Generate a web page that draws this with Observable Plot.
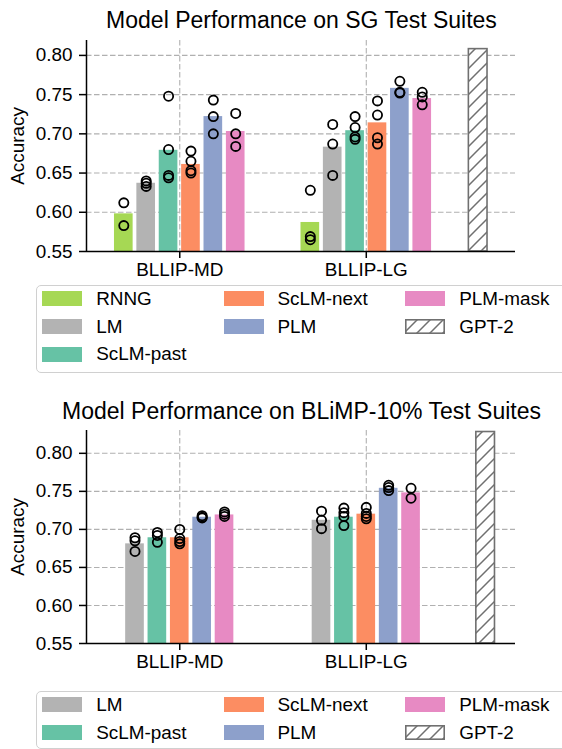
<!DOCTYPE html>
<html>
<head>
<meta charset="utf-8">
<script src="https://cdn.jsdelivr.net/npm/d3@7"></script>
<script src="https://cdn.jsdelivr.net/npm/@observablehq/plot@0.6"></script>
<style>
  html, body { margin: 0; padding: 0; background: #fff; }
  body { width: 562px; height: 749px; position: relative; overflow: hidden;
         font-family: "Liberation Sans", Arial, Helvetica, sans-serif; color: #000; }
  .title { position: absolute; left: 0; width: 603px; text-align: center;
           font-size: 23px; line-height: 23px; white-space: nowrap; }
  .chart { position: absolute; left: 0; }
  .legend { position: absolute; left: 36px; width: 540px; box-sizing: border-box;
            border: 1.5px solid #d0d0d0; border-radius: 5px; background: #fff; }
  .sw { position: absolute; width: 40px; height: 15px; }
  .lt { position: absolute; font-size: 18.9px; line-height: 18.9px; white-space: nowrap; }
</style>
</head>
<body>
<svg width="0" height="0" style="position:absolute">
  <defs>
    <pattern id="hatch" patternUnits="userSpaceOnUse" width="13" height="13">
      <rect width="13" height="13" fill="#fff"></rect>
      <path d="M-3,3 L3,-3 M0,13 L13,0 M10,16 L16,10" stroke="#707070" stroke-width="1.5"></path>
    </pattern>
  </defs>
</svg>
<div class="title" style="top:8.5px">Model Performance on SG Test Suites</div>
<div class="chart" id="c1" style="top:30px"></div>
<div class="legend" id="l1" style="top:285px;height:88px"></div>
<div class="title" style="top:400px">Model Performance on BLiMP-10% Test Suites</div>
<div class="chart" id="c2" style="top:420px"></div>
<div class="legend" id="l2" style="top:691px;height:58px"></div>
<script>
// ---------- data ----------
const groups = ["BLLIP-MD", "BLLIP-LG"];
const yTicks = [0.55, 0.60, 0.65, 0.70, 0.75, 0.80];

const sgModels = ["RNNG", "LM", "ScLM-past", "ScLM-next", "PLM", "PLM-mask"];
const sgMeanMD = [0.598, 0.637, 0.679, 0.661, 0.722, 0.703];
const sgMeanLG = [0.587, 0.683, 0.704, 0.714, 0.758, 0.745];
const sgSeedsMD = [
  [0.612, 0.583],
  [0.640, 0.637, 0.633],
  [0.748, 0.680, 0.647, 0.644],
  [0.678, 0.665, 0.653, 0.650],
  [0.743, 0.722, 0.700],
  [0.726, 0.700, 0.684]
];
const sgSeedsLG = [
  [0.628, 0.569, 0.565],
  [0.712, 0.687, 0.647],
  [0.722, 0.708, 0.696, 0.693],
  [0.742, 0.724, 0.695, 0.687],
  [0.767, 0.753, 0.752],
  [0.753, 0.747, 0.737]
];
const sgGPT2 = 0.808;

const blModels = ["LM", "ScLM-past", "ScLM-next", "PLM", "PLM-mask"];
const blMeanMD = [0.681, 0.689, 0.689, 0.716, 0.719];
const blMeanLG = [0.712, 0.716, 0.720, 0.754, 0.748];
const blSeedsMD = [
  [0.689, 0.685, 0.671],
  [0.696, 0.692, 0.683],
  [0.700, 0.688, 0.684, 0.681],
  [0.718, 0.716, 0.715],
  [0.723, 0.720, 0.717]
];
const blSeedsLG = [
  [0.724, 0.712, 0.701],
  [0.728, 0.722, 0.717, 0.705],
  [0.729, 0.721, 0.717, 0.714],
  [0.758, 0.755, 0.751],
  [0.754, 0.741]
];
const blGPT2 = 0.828;

const modelColors = {
  "RNNG": "#a6d854", "LM": "#b3b3b3", "ScLM-past": "#66c2a5",
  "ScLM-next": "#fc8d62", "PLM": "#8da0cb", "PLM-mask": "#e78ac3"
};

// ---------- layout constants ----------
const STEP = 0.12, BAR_W = 0.1, BASE = 0.55;
const FONT = '"Liberation Sans", Arial, Helvetica, sans-serif';

function makeChart(models, meansPerGroup, seedsPerGroup, gptX, gptVal, yMax, height) {
  const n = models.length;
  const bars = [], pts = [];
  meansPerGroup.forEach((means, g) => {
    means.forEach((v, i) => {
      const x = g + (i - (n - 1) / 2) * STEP;
      bars.push({x, v, model: models[i]});
      seedsPerGroup[g][i].forEach(s => pts.push({x, v: s}));
    });
  });
  const grid = {stroke: "#b0b0b0", strokeOpacity: 1, strokeWidth: 1.1, strokeDasharray: "5.5,2.5"};
  return Plot.plot({
    width: 562, height,
    marginLeft: 86, marginRight: 47, marginTop: 10, marginBottom: 41,
    x: {domain: [-0.5, 1.8], axis: null},
    y: {domain: [BASE, yMax], axis: null},
    color: {domain: Object.keys(modelColors), range: Object.values(modelColors)},
    style: {fontFamily: FONT, fontSize: "18.9px", color: "#000", background: "transparent", overflow: "visible"},
    marks: [
      Plot.gridY(yTicks, grid),
      Plot.gridX([0, 1], grid),
      Plot.rect(bars, {x1: d => d.x - BAR_W / 2, x2: d => d.x + BAR_W / 2, y1: d => BASE, y2: "v", fill: "model"}),
      Plot.rect([gptVal], {x1: d => gptX - BAR_W / 2, x2: d => gptX + BAR_W / 2, y1: d => BASE, y2: d => d,
        fill: "url(#hatch)", stroke: "#707070", strokeWidth: 1.6}),
      Plot.dot(pts, {x: "x", y: "v", r: 4.6, stroke: "#000", strokeWidth: 1.8, fill: "none"}),
      Plot.ruleX([-0.5], {stroke: "#000", strokeWidth: 1.5}),
      Plot.ruleY([BASE], {stroke: "#000", strokeWidth: 1.5}),
      Plot.axisY(yTicks, {tickSize: 7, tickPadding: 7, strokeWidth: 1.5, tickFormat: d3.format(".2f"), label: null}),
      Plot.axisX([0, 1], {tickSize: 7, tickPadding: 4, strokeWidth: 1.5, tickFormat: i => groups[i], label: null}),
      Plot.text(["Accuracy"], {frameAnchor: "left", dx: -69, rotate: -90, text: d => d,
        textAnchor: "middle", lineAnchor: "middle", fontSize: 18.9})
    ]
  });
}

document.getElementById("c1").appendChild(
  makeChart(sgModels, [sgMeanMD, sgMeanLG], [sgSeedsMD, sgSeedsLG], 1.6, sgGPT2, 0.819, 262));
document.getElementById("c2").appendChild(
  makeChart(blModels, [blMeanMD, blMeanLG], [blSeedsMD, blSeedsLG], 1.64, blGPT2, 0.83, 264));

// ---------- legends (matplotlib-style column filling, ncol = 3) ----------
function makeLegend(el, entries, ncol) {
  const colSw = [5.2, 186.5, 368.2];   // relative to legend padding box
  const rowStep = 27.7, row0 = 12.8;
  const nrows = Math.floor(entries.length / ncol), nLarge = entries.length % ncol;
  const sizes = d3.range(ncol).map(c => nrows + (c < nLarge ? 1 : 0));
  let k = 0;
  sizes.forEach((size, c) => {
    for (let r = 0; r < size; r++, k++) {
      const name = entries[k];
      const cy = row0 + r * rowStep;
      const sw = document.createElement("div");
      sw.className = "sw";
      sw.style.left = colSw[c] + "px";
      sw.style.top = (cy - 7.5) + "px";
      if (name === "GPT-2") {
        sw.innerHTML = '<svg width="40" height="15"><rect x="0.8" y="0.8" width="38.4" height="13.4" fill="url(#hatch)" stroke="#707070" stroke-width="1.6"/></svg>';
      } else {
        sw.style.background = modelColors[name];
      }
      el.appendChild(sw);
      const t = document.createElement("div");
      t.className = "lt";
      t.textContent = name;
      t.style.left = (colSw[c] + 54) + "px";
      t.style.top = (cy + 7 - 16) + "px";
      el.appendChild(t);
    }
  });
}
makeLegend(document.getElementById("l1"), [...sgModels, "GPT-2"], 3);
makeLegend(document.getElementById("l2"), [...blModels, "GPT-2"], 3);
</script>
</body>
</html>
